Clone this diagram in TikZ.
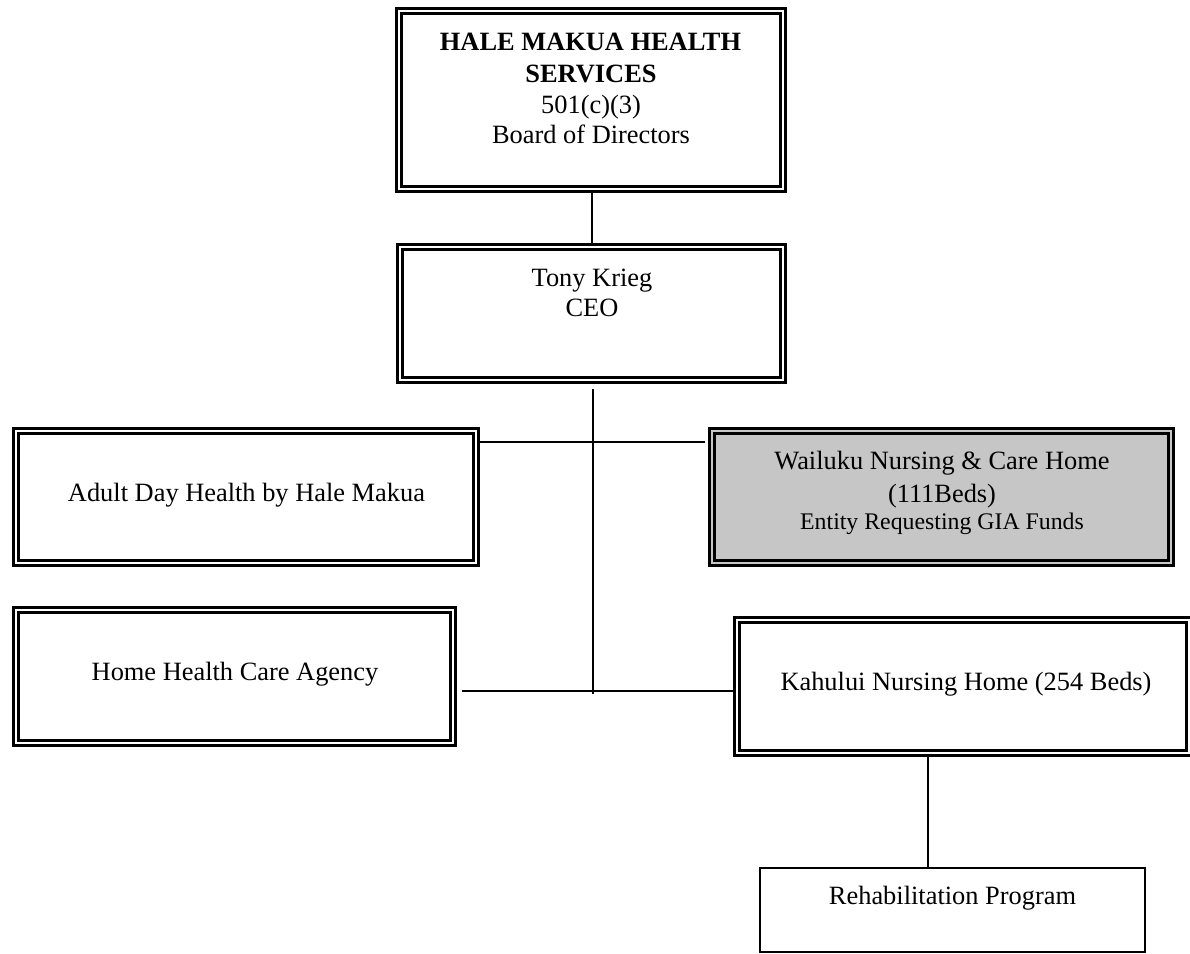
\documentclass[tikz,border=0pt]{standalone}
\usepackage{fontspec}
\setmainfont{Liberation Serif}
\begin{document}
\begin{tikzpicture}[x=1pt,y=-1pt,
  dbox/.style={rectangle, draw=black, line width=3pt, inner sep=0pt, outer sep=0pt,
    path picture={\draw[line width=2.3pt] ([shift={(5pt,-5pt)}]path picture bounding box.north west) rectangle ([shift={(-5pt,5pt)}]path picture bounding box.south east);}},
  sbox/.style={rectangle, draw=black, line width=1.6pt, inner sep=0pt, outer sep=0pt},
  txt/.style={inner sep=0pt, anchor=base, font=\fontsize{26.4}{31}\selectfont},
  smalltxt/.style={inner sep=0pt, anchor=base, font=\fontsize{23.8}{28}\selectfont},
  conn/.style={line width=1.6pt, black}]
\fill[white] (0,0) rectangle (1190,953);
\useasboundingbox (0,0) rectangle (1190,953);

% boxes
\node[dbox, minimum width=389pt, minimum height=183pt] (top) at (591,100) {};
\node[dbox, minimum width=388pt, minimum height=138pt] (ceo) at (591.5,313.5) {};
\node[dbox, minimum width=465pt, minimum height=137pt] (adult) at (246,497) {};
\node[dbox, fill={rgb,255:red,198;green,198;blue,198}, minimum width=464pt, minimum height=137pt] (wailuku) at (941.5,497) {};
\node[dbox, minimum width=442pt, minimum height=138pt] (hhc) at (234.5,676.5) {};
\node[dbox, minimum width=457pt, minimum height=138pt] (kahului) at (963,686.5) {};
\node[sbox, minimum width=385pt, minimum height=84pt] (rehab) at (952.5,910) {};

% texts
\node[txt, font=\fontsize{26.4}{31}\selectfont\bfseries] (t1) at (590.5,50) {HALE MAKUA HEALTH};
\node[txt, font=\fontsize{26.4}{31}\selectfont\bfseries] (t2) at (591,82) {SERVICES};
\node[txt] (t3) at (591,113) {501(c)(3)};
\node[txt] (t4) at (591,143) {Board of Directors};
\node[txt] (c1) at (592,286) {Tony Krieg};
\node[txt] (c2) at (592,316) {CEO};
\node[txt] (a1) at (246.5,501) {Adult Day Health by Hale Makua};
\node[txt] (w1) at (942,469) {Wailuku Nursing \& Care Home};
\node[txt] (w2) at (942,502) {(111Beds)};
\node[smalltxt] (w3) at (942,529) {Entity Requesting GIA Funds};
\node[txt] (h1) at (235,680) {Home Health Care Agency};
\node[txt] (k1) at (966,690) {Kahului Nursing Home (254 Beds)};
\node[txt] (r1) at (952.5,904) {Rehabilitation Program};

% connectors
\coordinate (trunkTop) at (593,389);
\coordinate (trunkBot) at (593,694);
\coordinate (j1) at (593,442);
\coordinate (j2) at (593,691);
\coordinate (rx) at (928,0);
\draw[conn] (top.south -| 592,0) -- (ceo.north -| 592,0);
\draw[conn] (trunkTop) -- (trunkBot);
\draw[conn] (adult.east |- j1) -- ([xshift=-5pt]wailuku.west |- j1);
\draw[conn] ([xshift=6pt]hhc.east |- j2) -- (kahului.west |- j2);
\draw[conn] (kahului.south -| rx) -- (rehab.north -| rx);
\end{tikzpicture}
\end{document}
